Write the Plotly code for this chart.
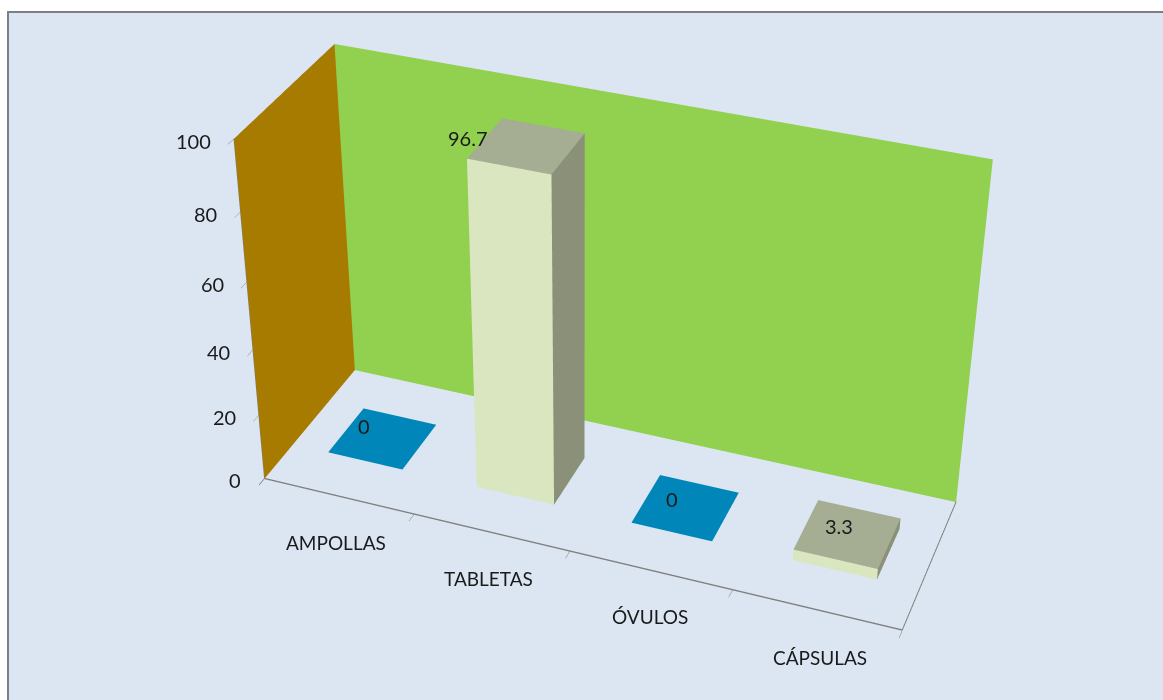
import plotly.graph_objects as go

categories = ["AMPOLLAS", "TABLETAS", "ÓVULOS", "CÁPSULAS"]
values = [0, 96.7, 0, 3.3]
value_ticks = [0, 20, 40, 60, 80, 100]
label_shift_x = [-19, -59, -14, -9]
label_shift_y = [-13, -8, -9, -8]
cat_shift_x = [-2, -2, 0, 4]
cat_shift_y = [-47, -46, -47, -48]

W, H = 1163, 1988
PAGE_SHIFT = 644   # the long-lens camera needs a taller canvas; its centre sits mid-window
GREEN, BROWN, BG = "#92D050", "#A67B00", "#DCE6F2"
BLUE, TOP, SIDE, FRONT = "#0086B8", "#A5AD93", "#8B9079", "#D9E6BF"
GREY = "#7F7F7F"
INK = "#1a1a1a"
FONT = "Lato"

bx, by, bz, bi, bj, bk, bc = [], [], [], [], [], [], []
for n, v in enumerate(values):
    x0, x1, y0, y1 = n + 0.245, n + 0.75, 0.3, 0.7
    base = len(bx)
    for zz in (0, v):
        bx += [x0, x1, x1, x0]
        by += [y0, y0, y1, y1]
        bz += [zz] * 4
    top_col = TOP if v > 0 else BLUE
    quads = [((4, 5, 6, 7), top_col), ((0, 1, 5, 4), FRONT), ((1, 2, 6, 5), SIDE)]
    for q, col in quads:
        a, b, c, d = [base + t for t in q]
        bi += [a, a]; bj += [b, c]; bk += [c, d]; bc += [col, col]

fig = go.Figure()
fig.add_trace(go.Mesh3d(x=bx, y=by, z=bz, i=bi, j=bj, k=bk, facecolor=bc, flatshading=True,
                        lighting=dict(ambient=1, diffuse=0, specular=0, fresnel=0, roughness=1),
                        hoverinfo="skip", showscale=False))
fig.add_trace(go.Scatter3d(x=[0, 4, 4], y=[0, 0, 1], z=[0, 0, 0], mode="lines",
                           line=dict(color=GREY, width=2), hoverinfo="skip", showlegend=False))

ann = []
for n, c in enumerate(categories):
    ann.append(dict(x=n + 0.5, y=0, z=0, text=c, showarrow=False,
                    yshift=cat_shift_y[n], xshift=cat_shift_x[n],
                    font=dict(family=FONT, size=19, color=INK)))
    ann.append(dict(x=n + 0.5, y=0.5, z=values[n], text=str(values[n]), showarrow=False,
                    xshift=label_shift_x[n], yshift=-label_shift_y[n],
                    font=dict(family=FONT, size=20, color=INK)))
for t in value_ticks:
    ann.append(dict(x=0, y=0, z=t, text=str(t), showarrow=False, xanchor="right",
                    xshift=-21, yshift=-2, font=dict(family=FONT, size=20, color=INK)))

hidden = dict(showgrid=False, zeroline=False, title="", showspikes=False)
fig.update_layout(
    width=W, height=H, margin=dict(l=0, r=0, t=0, b=0), paper_bgcolor="white",
    showlegend=False,
    shapes=[dict(type="rect", xref="paper", yref="paper", x0=8 / W, x1=1.01, y0=-0.01,
                 y1=1 - (12 + PAGE_SHIFT) / H,
                 fillcolor=BG, line=dict(color=GREY, width=2), layer="below")],
    scene=dict(
        domain=dict(x=[0, 1], y=[0, 1]), bgcolor="rgba(0,0,0,0)",
        xaxis=dict(hidden, range=[0, 4], showbackground=True, backgroundcolor=BROWN,
                   tickvals=[0, 1, 2, 3, 4], ticktext=[""] * 5, ticks="outside", ticklen=5,
                   tickcolor=GREY, showline=True, linecolor=GREY),
        yaxis=dict(hidden, range=[0, 1], showbackground=True, backgroundcolor=GREEN,
                   showticklabels=False, ticks=""),
        zaxis=dict(hidden, range=[-0.2, 100], showbackground=True, backgroundcolor=BG,
                   tickvals=value_ticks, ticktext=[""] * len(value_ticks), ticks="outside",
                   ticklen=14, tickcolor=GREY, showline=True, linecolor=GREY),
        aspectmode="manual", aspectratio=dict(x=1, y=0.32, z=0.587),
        camera=dict(eye=dict(x=1.009, y=-2.745, z=1.882), center=dict(x=-0.031, y=-0.031, z=-0.027),
                    up=dict(x=0.004, y=0, z=1)),
        annotations=ann,
    ),
)
post = f"document.body.style.margin='-{PAGE_SHIFT}px 0 0 0';document.body.style.overflow='hidden';"
fig.write_html("out.html", config=dict(displayModeBar=False), post_script=post)
